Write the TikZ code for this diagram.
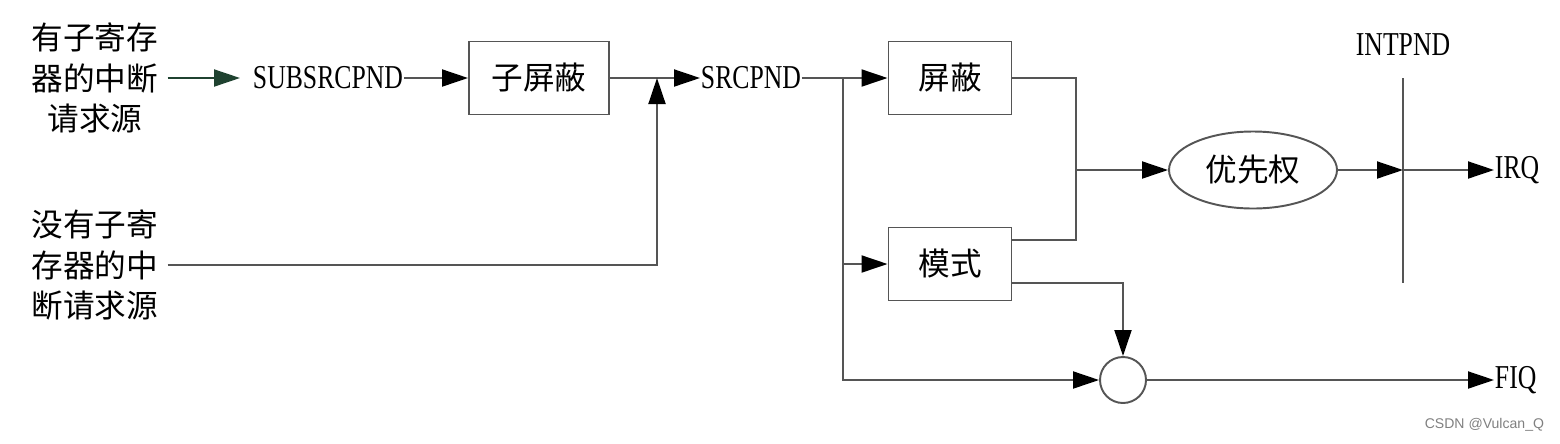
\documentclass[tikz,border=0pt]{standalone}
\usepackage{fontspec}
\setmainfont{Liberation Serif}[FakeStretch=0.77]
\newfontfamily\cjk{Noto Sans CJK SC}
\newfontfamily\marksans{Liberation Sans}
\usetikzlibrary{arrows.meta,positioning,shapes.geometric}
\definecolor{wiregray}{HTML}{555555}
\definecolor{darkgreen}{HTML}{1F4230}

\begin{document}
\begin{tikzpicture}[x=0.2mm,y=-0.2mm,line width=1.1pt,
				>={Triangle[length=5.2mm,width=3.4mm,color=black]},
				wire/.style={draw=wiregray},
				src/.style={font=\cjk\fontsize{18}{23}\selectfont,align=center,inner sep=1pt,outer sep=1.5mm},
				reg/.style={font=\fontsize{19}{22}\selectfont,inner sep=0pt},
				blk/.style={draw=wiregray,minimum width=24.6mm,minimum height=14.6mm,
					font=\cjk\fontsize{18}{20}\selectfont},
				greenarrow/.style={draw=darkgreen,-{Triangle[length=5.2mm,width=3.4mm]}}]
			\useasboundingbox (0,0) rectangle (1560,443);
			\node [src] (src1) at (95,78) {有子寄存\\器的中断\\请求源};
			\node [src] (src2) at (95,265) {没有子寄\\存器的中\\断请求源};
			\node [reg] (sub) at (328,78) {SUBSRCPND};
			\node [blk,minimum width=28mm] (submask) at (539,78) {子屏蔽}
				edge[wire,<-](sub);
			\node [reg,anchor=west] (srcp) at (700,78) {SRCPND};
			\node [blk] (mask) at (950,78) {屏蔽};
			\node [blk] (mode) at (950,264) {模式};
			\node [ellipse,draw=wiregray,minimum width=33.6mm,minimum height=15.4mm,
				font=\cjk\fontsize{18}{20}\selectfont] (prio) at (1253,170) {优先权};
			\node [circle,draw=wiregray,minimum size=9.2mm] (orgate) at (1123,380) {};
			\node [reg] (intp) at (1403,45) {INTPND};
			\node [reg,anchor=west] (irq) at (1494,170) {IRQ};
			\node [reg,anchor=west] (fiq) at (1494,380) {FIQ};
			\coordinate (join) at (657,78);
			\coordinate (split) at (843,78);
			\coordinate (merge) at (1076,170);
			\coordinate (tap) at (1403,170);
			\coordinate (bartop) at (1403,78);
			\coordinate (barbot) at (1403,283);
			% inputs
			\draw [greenarrow,shorten >=2.4mm] (src1.east) -- (sub.west);
			\draw [wire,->] (submask.east) -- (srcp.west);
			\draw [wire,->] (src2.east) -| (join);
			% SRCPND to mask and mode
			\draw [wire,->] (srcp.east) -- (mask.west);
			\draw [wire,->] (split) |- (orgate.west);
			\draw [wire,->] (split |- mode) -- (mode.west);
			\draw [wire] (mask.east) -| (merge) |- ([yshift=4.8mm]mode.east);
			\draw [wire,->] (merge) -- (prio.west);
			% outputs
			\draw [wire] (bartop) -- (barbot);
			\draw [wire,->] (prio.east) -- (tap);
			\draw [wire,->] (tap) -- (irq.west);
			\draw [wire,->] ([yshift=-3.8mm]mode.east) -| (orgate.north);
			\draw [wire,->] (orgate.east) -- (fiq.west);
			\node [font=\marksans\fontsize{8}{9}\selectfont,text=gray,anchor=east,inner sep=0pt]
				(mark) at (1545,425) {CSDN @Vulcan\_Q};
		\end{tikzpicture}
\end{document}
